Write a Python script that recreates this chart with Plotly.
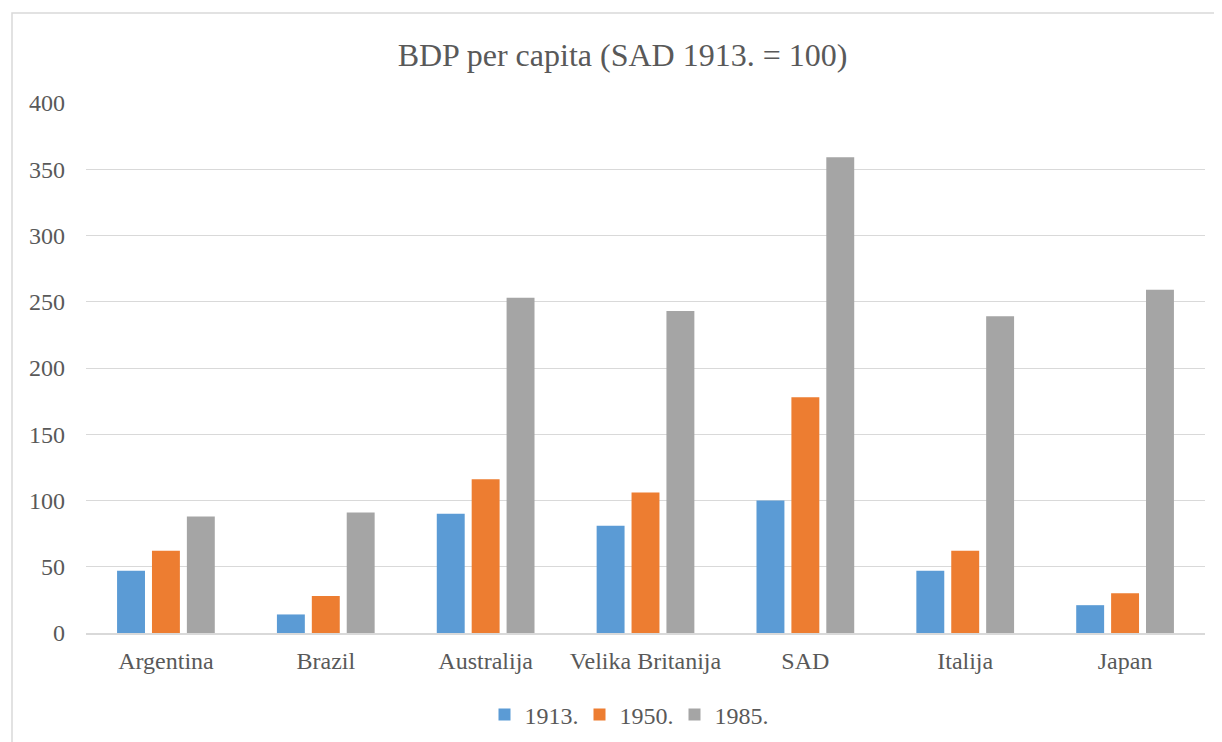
import plotly.graph_objects as go

categories = ["Argentina", "Brazil", "Australija", "Velika Britanija", "SAD", "Italija", "Japan"]
series_names = ["1913.", "1950.", "1985."]
v1913 = [47, 14, 90, 81, 100, 47, 21]
v1950 = [62, 28, 116, 106, 178, 62, 30]
v1985 = [88, 91, 253, 243, 359, 239, 259]
colors = ["#5B9BD5", "#ED7D31", "#A5A5A5"]
y_ticks = [0, 50, 100, 150, 200, 250, 300, 350, 400]

FONT = "Liberation Serif"
TXT = "#595959"

fig = go.Figure()
for name, vals, col in zip(series_names, [v1913, v1950, v1985], colors):
    fig.add_trace(go.Bar(x=categories, y=vals, name=name, marker=dict(color=col, line=dict(width=0))))

OFF = 8  # page offset of the figure
W, H = 1222 - OFF, 742 - OFF
L, R, T, B = 86 - OFF, 17, 103 - OFF, 109
pw = W - L - R
ph = H - T - B

def px2x(x):
    return (x - OFF - L) / pw

def py2y(y):
    return (H - B - (y - OFF)) / ph

fig.update_layout(
    width=W, height=H,
    margin=dict(l=L, r=R, t=T, b=B, autoexpand=False),
    paper_bgcolor="white", plot_bgcolor="white",
    barmode="group", bargap=0.345, bargroupgap=0.2,
    font=dict(family=FONT, color=TXT, size=24),
    title=dict(text="BDP per capita (SAD 1913. = 100)", x=(622.5 - OFF) / W, xref="container", xanchor="center",
               y=1 - (55 - OFF) / H, yref="container", yanchor="middle",
               font=dict(family=FONT, size=32, color=TXT)),
    legend=dict(orientation="h", x=px2x(627), xanchor="center", y=py2y(715), yanchor="middle",
                font=dict(family=FONT, size=24, color=TXT), traceorder="normal",
                entrywidth=50, entrywidthmode="pixels", itemwidth=30,
                bgcolor="rgba(0,0,0,0)"),
    showlegend=True,
)
fig.update_yaxes(range=[0, 400], tickvals=y_ticks, showgrid=True, gridcolor="#D9D9D9", gridwidth=1.3,
                 zeroline=False, showline=False, ticks="", ticklabelstandoff=20, automargin=False,
                 tickfont=dict(family=FONT, size=24, color=TXT), fixedrange=True)
fig.update_xaxes(showline=True, linecolor="#D9D9D9", linewidth=1.5, ticks="", showgrid=False, automargin=False,
                 ticklabelstandoff=5, tickfont=dict(family=FONT, size=24, color=TXT), fixedrange=True)

fig.add_shape(type="rect", xref="paper", yref="paper",
              x0=px2x(12), x1=px2x(1221), y0=py2y(746), y1=py2y(13),
              line=dict(color="#D9D9D9", width=1.5), fillcolor="rgba(0,0,0,0)", layer="below")

fig.write_html("out.html", config={"displayModeBar": False})
